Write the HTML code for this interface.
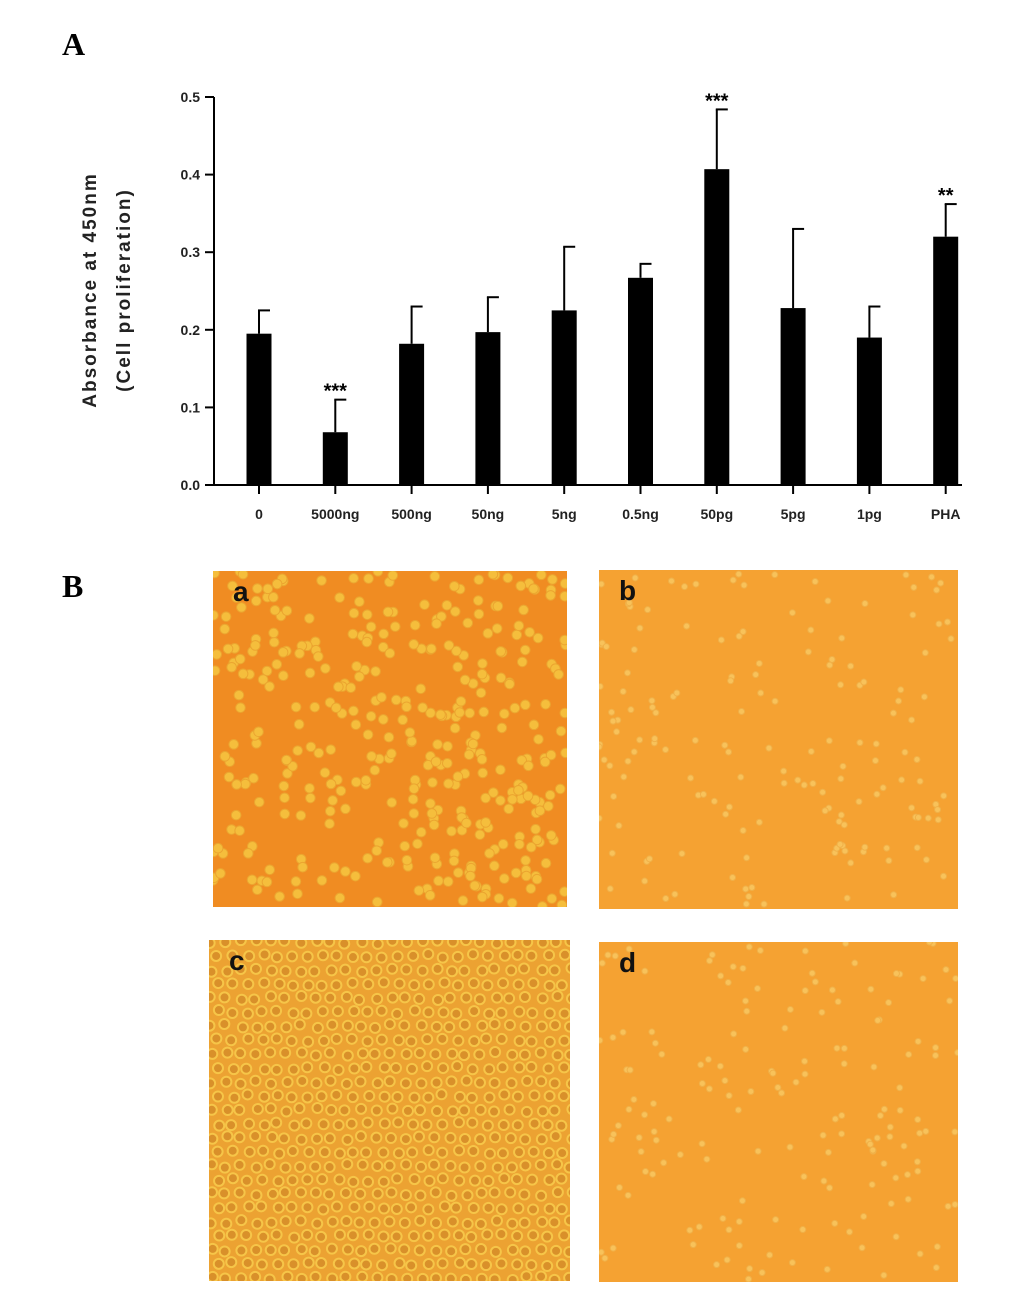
<!DOCTYPE html>
<html><head><meta charset="utf-8">
<style>
body{margin:0;width:1033px;height:1294px;background:#fff;position:relative;overflow:hidden;font-family:"Liberation Sans",sans-serif}
.lbl{position:absolute;font-family:"Liberation Serif",serif;font-weight:bold;font-size:32px}
</style></head><body>
<div class="lbl" style="left:62px;top:26px">A</div>
<div class="lbl" style="left:62px;top:568px">B</div>
<svg id="chart" width="1033" height="540" style="position:absolute;left:0;top:0"></svg>
<svg id="imgs" width="1033" height="1294" style="position:absolute;left:0;top:0;pointer-events:none"></svg>
<script>
const categories=["0","5000ng","500ng","50ng","5ng","0.5ng","50pg","5pg","1pg","PHA"];
const values=[0.195,0.068,0.182,0.197,0.225,0.267,0.407,0.228,0.19,0.32];
const errTops=[0.225,0.11,0.23,0.242,0.307,0.285,0.484,0.33,0.23,0.362];
const stars=["","***","","","","","***","","","**"];
const yTicks=["0.0","0.1","0.2","0.3","0.4","0.5"];
const NS="http://www.w3.org/2000/svg";
const svg=document.getElementById('chart');
function mk(t,a,p){const e=document.createElementNS(NS,t);for(const k in a)e.setAttribute(k,a[k]);(p||svg).appendChild(e);return e;}
const y0=485,y1=97,xAxis=214;
const yS=v=>y0-(v/0.5)*(y0-y1);
const xS=i=>259+i*76.3;
const ax=mk('line',{x1:xAxis,y1:y1,x2:xAxis,y2:y0,stroke:'#000','stroke-width':2});

const bx=mk('line',{x1:xAxis-9,y1:y0,x2:962,y2:y0,stroke:'#000','stroke-width':2});

yTicks.forEach(t=>{const v=parseFloat(t),y=yS(v);
mk('line',{x1:xAxis-9,y1:y,x2:xAxis,y2:y,stroke:'#000','stroke-width':2});
const tx=mk('text',{x:xAxis-14,y:y+5,'text-anchor':'end','font-size':14,'font-weight':'bold',fill:'#222'});tx.textContent=t;
});
categories.forEach((c,i)=>{const x=xS(i);
mk('line',{x1:x,y1:y0,x2:x,y2:y0+9,stroke:'#000','stroke-width':2});
mk('line',{x1:x,y1:yS(errTops[i]),x2:x,y2:yS(values[i]),stroke:'#000','stroke-width':2});
mk('line',{x1:x-1,y1:yS(errTops[i]),x2:x+11,y2:yS(errTops[i]),stroke:'#000','stroke-width':2});
const b=mk('rect',{x:x-12.5,y:yS(values[i]),width:25,height:y0-yS(values[i]),fill:'#000'});

const t=mk('text',{x:x,y:519,'text-anchor':'middle','font-size':14,'font-weight':'bold',fill:'#222'});t.textContent=c;

if(stars[i]){const s=mk('text',{x:x,y:yS(errTops[i])-2,'text-anchor':'middle','font-size':20,'font-weight':'bold'});s.textContent=stars[i];
}
});
const yt=mk('text',{transform:'translate(96,290) rotate(-90)','text-anchor':'middle','font-size':19,'font-weight':'bold',fill:'#222','letter-spacing':'2'});
yt.textContent='Absorbance at 450nm';
const yt2=mk('text',{transform:'translate(130,290) rotate(-90)','text-anchor':'middle','font-size':19,'font-weight':'bold',fill:'#222','letter-spacing':'2'});
yt2.textContent='(Cell proliferation)';

const im=document.getElementById('imgs');
let seed=7;const rnd=()=>{seed=(seed*16807)%2147483647;return seed/2147483647;};
const panels=[
 {n:'a',x:213,y:571,w:354,h:336,bg:'#f08c22',cell:'#f5be3c',count:380,r:4.8,ring:'#eba530'},
 {n:'b',x:599,y:570,w:359,h:339,bg:'#f5a232',cell:'#f8c25a',count:160,r:3,ring:'#f0b048'},
 {n:'c',x:209,y:940,w:361,h:341,bg:'#eca232',cell:'#d9902a',count:0,r:6,ring:'#f6c548'},
 {n:'d',x:599,y:942,w:359,h:340,bg:'#f5a232',cell:'#f8c25a',count:160,r:3,ring:'#f0b048'}];
panels.forEach(p=>{
 const g=mk('g',{},im);
 mk('rect',{x:p.x,y:p.y,width:p.w,height:p.h,fill:p.bg},g);
 const cp=mk('clipPath',{id:'cp'+p.n},g);mk('rect',{x:p.x,y:p.y,width:p.w,height:p.h},cp);
 const gg=mk('g',{'clip-path':'url(#cp'+p.n+')'},g);
 if(p.n==='c'){for(let yy=p.y;yy<p.y+p.h+14;yy+=14){for(let xx=p.x+((Math.round((yy-p.y)/14))%2?7:0);xx<p.x+p.w+14;xx+=15){
  mk('circle',{cx:xx+rnd()*4,cy:yy+rnd()*4,r:5,fill:p.cell,stroke:p.ring,'stroke-width':2},gg);}}}
 else{for(let k=0;k<p.count;k++){mk('circle',{cx:p.x+rnd()*p.w,cy:p.y+rnd()*p.h,r:p.r,fill:p.cell,stroke:p.ring,'stroke-width':1},gg);}}
 const t=mk('text',{x:p.x+20,y:p.y+30,'font-size':28,'font-weight':'bold',fill:'#111','font-family':'Liberation Sans, sans-serif'},g);t.textContent=p.n;
 
});
</script>
</body></html>
